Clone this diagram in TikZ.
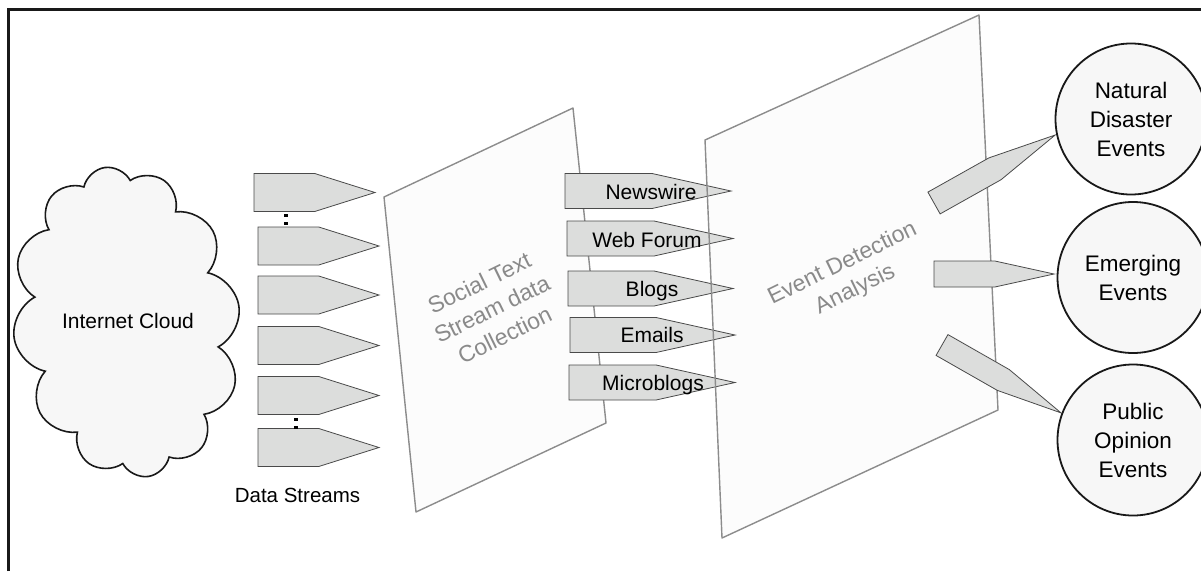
\documentclass[tikz,border=0pt]{standalone}
\usepackage{fontspec}
\setmainfont{Liberation Sans}
\usetikzlibrary{shapes.symbols}
\definecolor{arrfill}{HTML}{DCDDDC}
\definecolor{arrline}{HTML}{4A4A4A}
\definecolor{panelfill}{HTML}{FCFCFC}
\definecolor{panelline}{HTML}{8C8C8C}
\definecolor{paneltext}{HTML}{8A8A8A}
\definecolor{softfill}{HTML}{F7F7F7}
\begin{document}
\begin{tikzpicture}[x=1pt,y=-1pt,
  sig/.style={signal, signal to=east, draw=arrline, fill=arrfill, line width=0.8pt,
    inner sep=0pt, outer sep=0pt},
  dstream/.style={sig, minimum width=121pt, minimum height=38pt, signal pointer angle=35},
  srcarrow/.style={sig, minimum width=166pt, minimum height=35pt, signal pointer angle=25},
  outarrow/.style={sig, minimum height=25pt, signal pointer angle=21},
  panel/.style={fill=panelfill},
  paneledge/.style={draw=panelline, line width=1.4pt, line join=round},
  ptext/.style={text=paneltext, align=center, font=\fontsize{23}{29}\selectfont, rotate=26},
  lbl/.style={anchor=base, font=\fontsize{21}{25}\selectfont},
  evt/.style={circle, draw=black!90, line width=1.8pt, fill=softfill, minimum size=151pt,
    inner sep=0pt, align=center, font=\fontsize{22.5}{29}\selectfont},
  dotmark/.style={fill=black, minimum size=3.5pt, inner sep=0pt}
]
\useasboundingbox (0,0) rectangle (1201,571);
\fill[white] (0,0) rectangle (1201,571);
% frame (top and left only visible)
\draw[line width=3pt, black!90] (8.7,571) -- (8.7,9.5) -- (1201,9.5);

% cloud
\node[cloud, cloud puffs=12, cloud puff arc=140, cloud ignores aspect,
      minimum width=227pt, minimum height=312pt, draw=black!90, line width=1.6pt,
      fill=softfill, inner sep=0pt, rotate=8] (cloud) at (126.5,322) {};
\node[lbl] (cloudlbl) at (128,328) {Internet Cloud};

% data streams
\node[dstream, anchor=west] (d1) at (254,192.5) {};
\node[dstream, anchor=west] (d2) at (258,246) {};
\node[dstream, anchor=west] (d3) at (258,295) {};
\node[dstream, anchor=west] (d4) at (258,345.5) {};
\node[dstream, anchor=west] (d5) at (258,395.5) {};
\node[dstream, anchor=west] (d6) at (258,447.5) {};
\node[dotmark] (k1) at (286,215.5) {};
\node[dotmark] (k2) at (286,223.5) {};
\node[dotmark] (k3) at (296,419.5) {};
\node[dotmark] (k4) at (296,427.5) {};
\node[lbl, font=\fontsize{20.5}{25}\selectfont] (dslbl) at (297.5,502) {Data Streams};

% panel 1
\coordinate (p1a) at (384,197);
\coordinate (p1b) at (573,108);
\coordinate (p1c) at (606,423);
\coordinate (p1d) at (416,512);
\path[panel] (p1a) -- (p1b) -- (p1c) -- (p1d) -- cycle;
\draw[paneledge] (p1a) -- (p1b) -- (p1c) -- (p1d) -- cycle;
\node[ptext] (p1t) at (492,309) {Social Text\\Stream data\\Collection};

% panel 2 (fill)
\coordinate (p2a) at (705,140);
\coordinate (p2b) at (979,15);
\coordinate (p2c) at (998,410);
\coordinate (p2d) at (722,538);
\path[panel] (p2a) -- (p2b) -- (p2c) -- (p2d) -- cycle;

% source arrows
\node[srcarrow, anchor=west] (s1) at (565,191) {};
\node[srcarrow, anchor=west] (s2) at (567,238.5) {};
\node[srcarrow, anchor=west, minimum width=165pt] (s3) at (568,288.5) {};
\node[srcarrow, anchor=west, minimum width=165pt] (s4) at (570,335) {};
\node[srcarrow, anchor=west] (s5) at (569,382.5) {};

% panel 2 edge
\draw[paneledge] (p2a) -- (p2b) -- (p2c) -- (p2d) -- cycle;
\node[ptext] (p2t) at (849,277) {Event Detection\\Analysis};

% source labels
\node[lbl] (l1) at (651,199) {Newswire};
\node[lbl] (l2) at (647,247) {Web Forum};
\node[lbl] (l3) at (652,296) {Blogs};
\node[lbl] (l4) at (652,342) {Emails};
\node[lbl] (l5) at (653,390) {Microblogs};

% output arrows
\node[outarrow, anchor=west, rotate=29.3, minimum width=139pt, signal pointer angle=20.5] (o1) at (934,203) {};
\node[outarrow, anchor=west, minimum width=120pt, minimum height=26pt, signal pointer angle=24.8] (o2) at (934,274) {};
\node[outarrow, anchor=west, rotate=-29.7, minimum width=137pt, minimum height=24pt, signal pointer angle=20.5] (o3) at (942,345) {};

% event circles
\node[evt] (e1) at (1131,119) {Natural\\Disaster\\Events};
\node[evt] (e2) at (1133,277.5) {Emerging\\Events};
\node[evt] (e3) at (1133,440) {Public\\Opinion\\Events};
\end{tikzpicture}
\end{document}
